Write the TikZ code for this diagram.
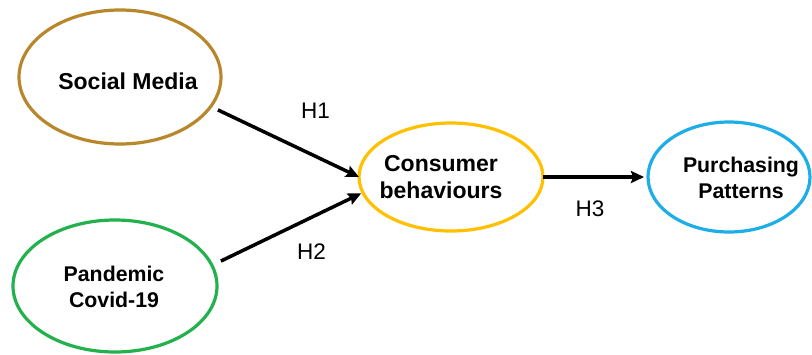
\documentclass[tikz,border=0pt]{standalone}
\usepackage{fontspec}
\setmainfont{Liberation Sans}
\usetikzlibrary{shapes.geometric,arrows.meta}

\definecolor{smbrown}{HTML}{B8862B}
\definecolor{pdgreen}{HTML}{22B14C}
\definecolor{cbgold}{HTML}{FFC000}
\definecolor{ppblue}{HTML}{1DAEE8}

\tikzset{
  construct/.style={ellipse, draw, line width=3.2pt, inner sep=0pt, outer sep=0pt, fill=white},
  bigtext/.style={font=\bfseries\fontsize{23}{27}\selectfont, align=center, inner sep=0pt},
  smalltext/.style={font=\bfseries\fontsize{21.3}{25.5}\selectfont, align=center, inner sep=0pt},
  hyp/.style={font=\fontsize{22.5}{26}\selectfont, inner sep=0pt},
  link/.style={line width=3.5pt, -{Stealth[length=13pt, width=12pt, inset=2pt]}},
}

\begin{document}
\begin{tikzpicture}[x=1pt, y=-1pt]
  \useasboundingbox (0,0) rectangle (812,354);

  % constructs
  \node[construct, draw=smbrown, minimum width=202pt, minimum height=134pt] (sm) at (120,77) {};
  \node[construct, draw=pdgreen, minimum width=204pt, minimum height=132pt] (pd) at (115,286) {};
  \node[construct, draw=cbgold, minimum width=184pt, minimum height=108pt] (cb) at (451,177) {};
  \node[construct, draw=ppblue, minimum width=162pt, minimum height=110pt] (pp) at (729,177) {};

  % construct names
  \node[bigtext] (smname) at (128,81) {Social Media};
  \node[smalltext] (pdname) at (114,287) {Pandemic\\Covid-19};
  \node[bigtext] (cbname) at (441,177) {Consumer\\behaviours};
  \node[smalltext] (ppname) at (741,178) {Purchasing\\Patterns};

  % hypothesised paths
  \draw[link, shorten <=8pt] (sm.-18) -- (cb.180);
  \draw[link, shorten <=10pt, shorten >=2pt] (pd.12) -- (cb.190);
  \draw[link, shorten >=4pt] (cb.east) -- (pp.west);

  % path labels
  \node[hyp] (h1) at (315.5,111) {H1};
  \node[hyp] (h2) at (311.5,252) {H2};
  \node[hyp] (h3) at (590,208.5) {H3};
\end{tikzpicture}
\end{document}
